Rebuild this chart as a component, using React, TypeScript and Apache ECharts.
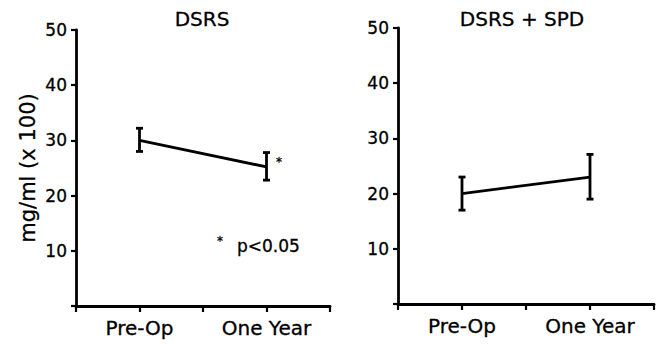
import React, { useEffect, useRef } from "react";
import * as echarts from "echarts";

const categories = ["Pre-Op", "One Year"];
const categoryPositions = [1, 3];
const panelTitles = ["DSRS", "DSRS + SPD"];
const yAxisName = "mg/ml (x 100)";
const yMin = 0;
const yMax = 50;
const yStep = 10;

const dsrsMean = [30, 25.2];
const dsrsUpper = [32.2, 27.8];
const dsrsLower = [28.0, 22.8];

const spdMean = [20, 23];
const spdUpper = [23, 27.1];
const spdLower = [17, 19];

const significanceNote = "p<0.05";
const significanceMark = "*";

const FONT = "DejaVu Sans";
const THICK = { textBorderColor: "#000", textBorderWidth: 0.3 };

function errorRender(params: any, api: any) {
  const x = api.value(0);
  const lo = api.value(1);
  const hi = api.value(2);
  const t = api.coord([x, hi]);
  const b = api.coord([x, lo]);
  const hw = 3.5;
  const style = { stroke: "#000", lineWidth: 2.8 };
  return {
    type: "group",
    children: [
      { type: "line", shape: { x1: t[0], y1: t[1], x2: b[0], y2: b[1] }, style },
      { type: "line", shape: { x1: t[0] - hw, y1: t[1], x2: t[0] + hw, y2: t[1] }, style },
      { type: "line", shape: { x1: b[0] - hw, y1: b[1], x2: b[0] + hw, y2: b[1] }, style },
    ],
  };
}

export default function App() {
  const ref = useRef<HTMLDivElement>(null);
  useEffect(() => {
    if (!ref.current) return;
    const chart = echarts.init(ref.current, undefined, { renderer: "svg" });
    const xAxisBase = (gridIndex: number) => ({
      type: "value",
      gridIndex,
      min: 0,
      max: 4,
      interval: 1,
      axisLine: { show: true, onZero: false, lineStyle: { color: "#000", width: 2.8 } },
      axisTick: { show: true, length: 6, lineStyle: { color: "#000", width: 2.2 } },
      splitLine: { show: false },
      axisLabel: {
        color: "#000",
        fontFamily: FONT,
        fontSize: 20,
        margin: 12,
        ...THICK,
        formatter: (v: number) => {
          const i = categoryPositions.indexOf(v);
          return i >= 0 ? categories[i] : "";
        },
      },
    });
    const yAxisBase = (gridIndex: number, withName: boolean) => ({
      type: "value",
      gridIndex,
      min: yMin,
      max: yMax,
      interval: yStep,
      name: withName ? yAxisName : "",
      nameLocation: "middle",
      nameGap: 38,
      nameTextStyle: { color: "#000", fontFamily: FONT, fontSize: 21, ...THICK },
      axisLine: { show: true, onZero: false, lineStyle: { color: "#000", width: 2.8 } },
      axisTick: { show: true, length: 5, lineStyle: { color: "#000", width: 2.2 } },
      splitLine: { show: false },
      axisLabel: {
        color: "#000",
        fontFamily: FONT,
        fontSize: 17,
        margin: 9,
        ...THICK,
        formatter: (v: number) => (v === 0 ? "" : String(v)),
      },
    });
    const lineSeries = (idx: number, mean: number[]) => ({
      type: "line",
      xAxisIndex: idx,
      yAxisIndex: idx,
      symbol: "none",
      lineStyle: { color: "#000", width: 2.8 },
      data: categoryPositions.map((x, i) => [x, mean[i]]),
      z: 3,
    });
    const errSeries = (idx: number, lower: number[], upper: number[]) => ({
      type: "custom",
      xAxisIndex: idx,
      yAxisIndex: idx,
      renderItem: errorRender,
      encode: { x: 0, y: [1, 2] },
      data: categoryPositions.map((x, i) => [x, lower[i], upper[i]]),
      z: 4,
    });
    const txt = (text: string, x: number, y: number, size: number, align: string, valign: string) => ({
      type: "text",
      x,
      y,
      style: {
        text,
        fill: "#000",
        font: `${size}px "${FONT}"`,
        textAlign: align,
        textVerticalAlign: valign,
        stroke: "#000",
        lineWidth: 0.3,
      },
    });
    chart.setOption({
      animation: false,
      backgroundColor: "#fff",
      grid: [
        { left: 76, top: 30, width: 254, height: 276 },
        { left: 398, top: 28, width: 256, height: 276 },
      ],
      xAxis: [xAxisBase(0), xAxisBase(1)],
      yAxis: [yAxisBase(0, true), yAxisBase(1, false)],
      series: [
        lineSeries(0, dsrsMean),
        errSeries(0, dsrsLower, dsrsUpper),
        lineSeries(1, spdMean),
        errSeries(1, spdLower, spdUpper),
      ],
      graphic: [
        txt(panelTitles[0], 202, 19, 20, "center", "middle"),
        txt(panelTitles[1], 522, 19, 20, "center", "middle"),
        txt(significanceMark, 276, 156, 12, "left", "top"),
        txt(significanceMark, 217, 235, 12, "left", "top"),
        txt(significanceNote, 237, 246, 17, "left", "middle"),
      ],
    });
    return () => chart.dispose();
  }, []);
  return (
    <div
      ref={ref}
      style={{ position: "absolute", left: 0, top: 0, width: 661, height: 344, background: "#fff" }}
    />
  );
}
